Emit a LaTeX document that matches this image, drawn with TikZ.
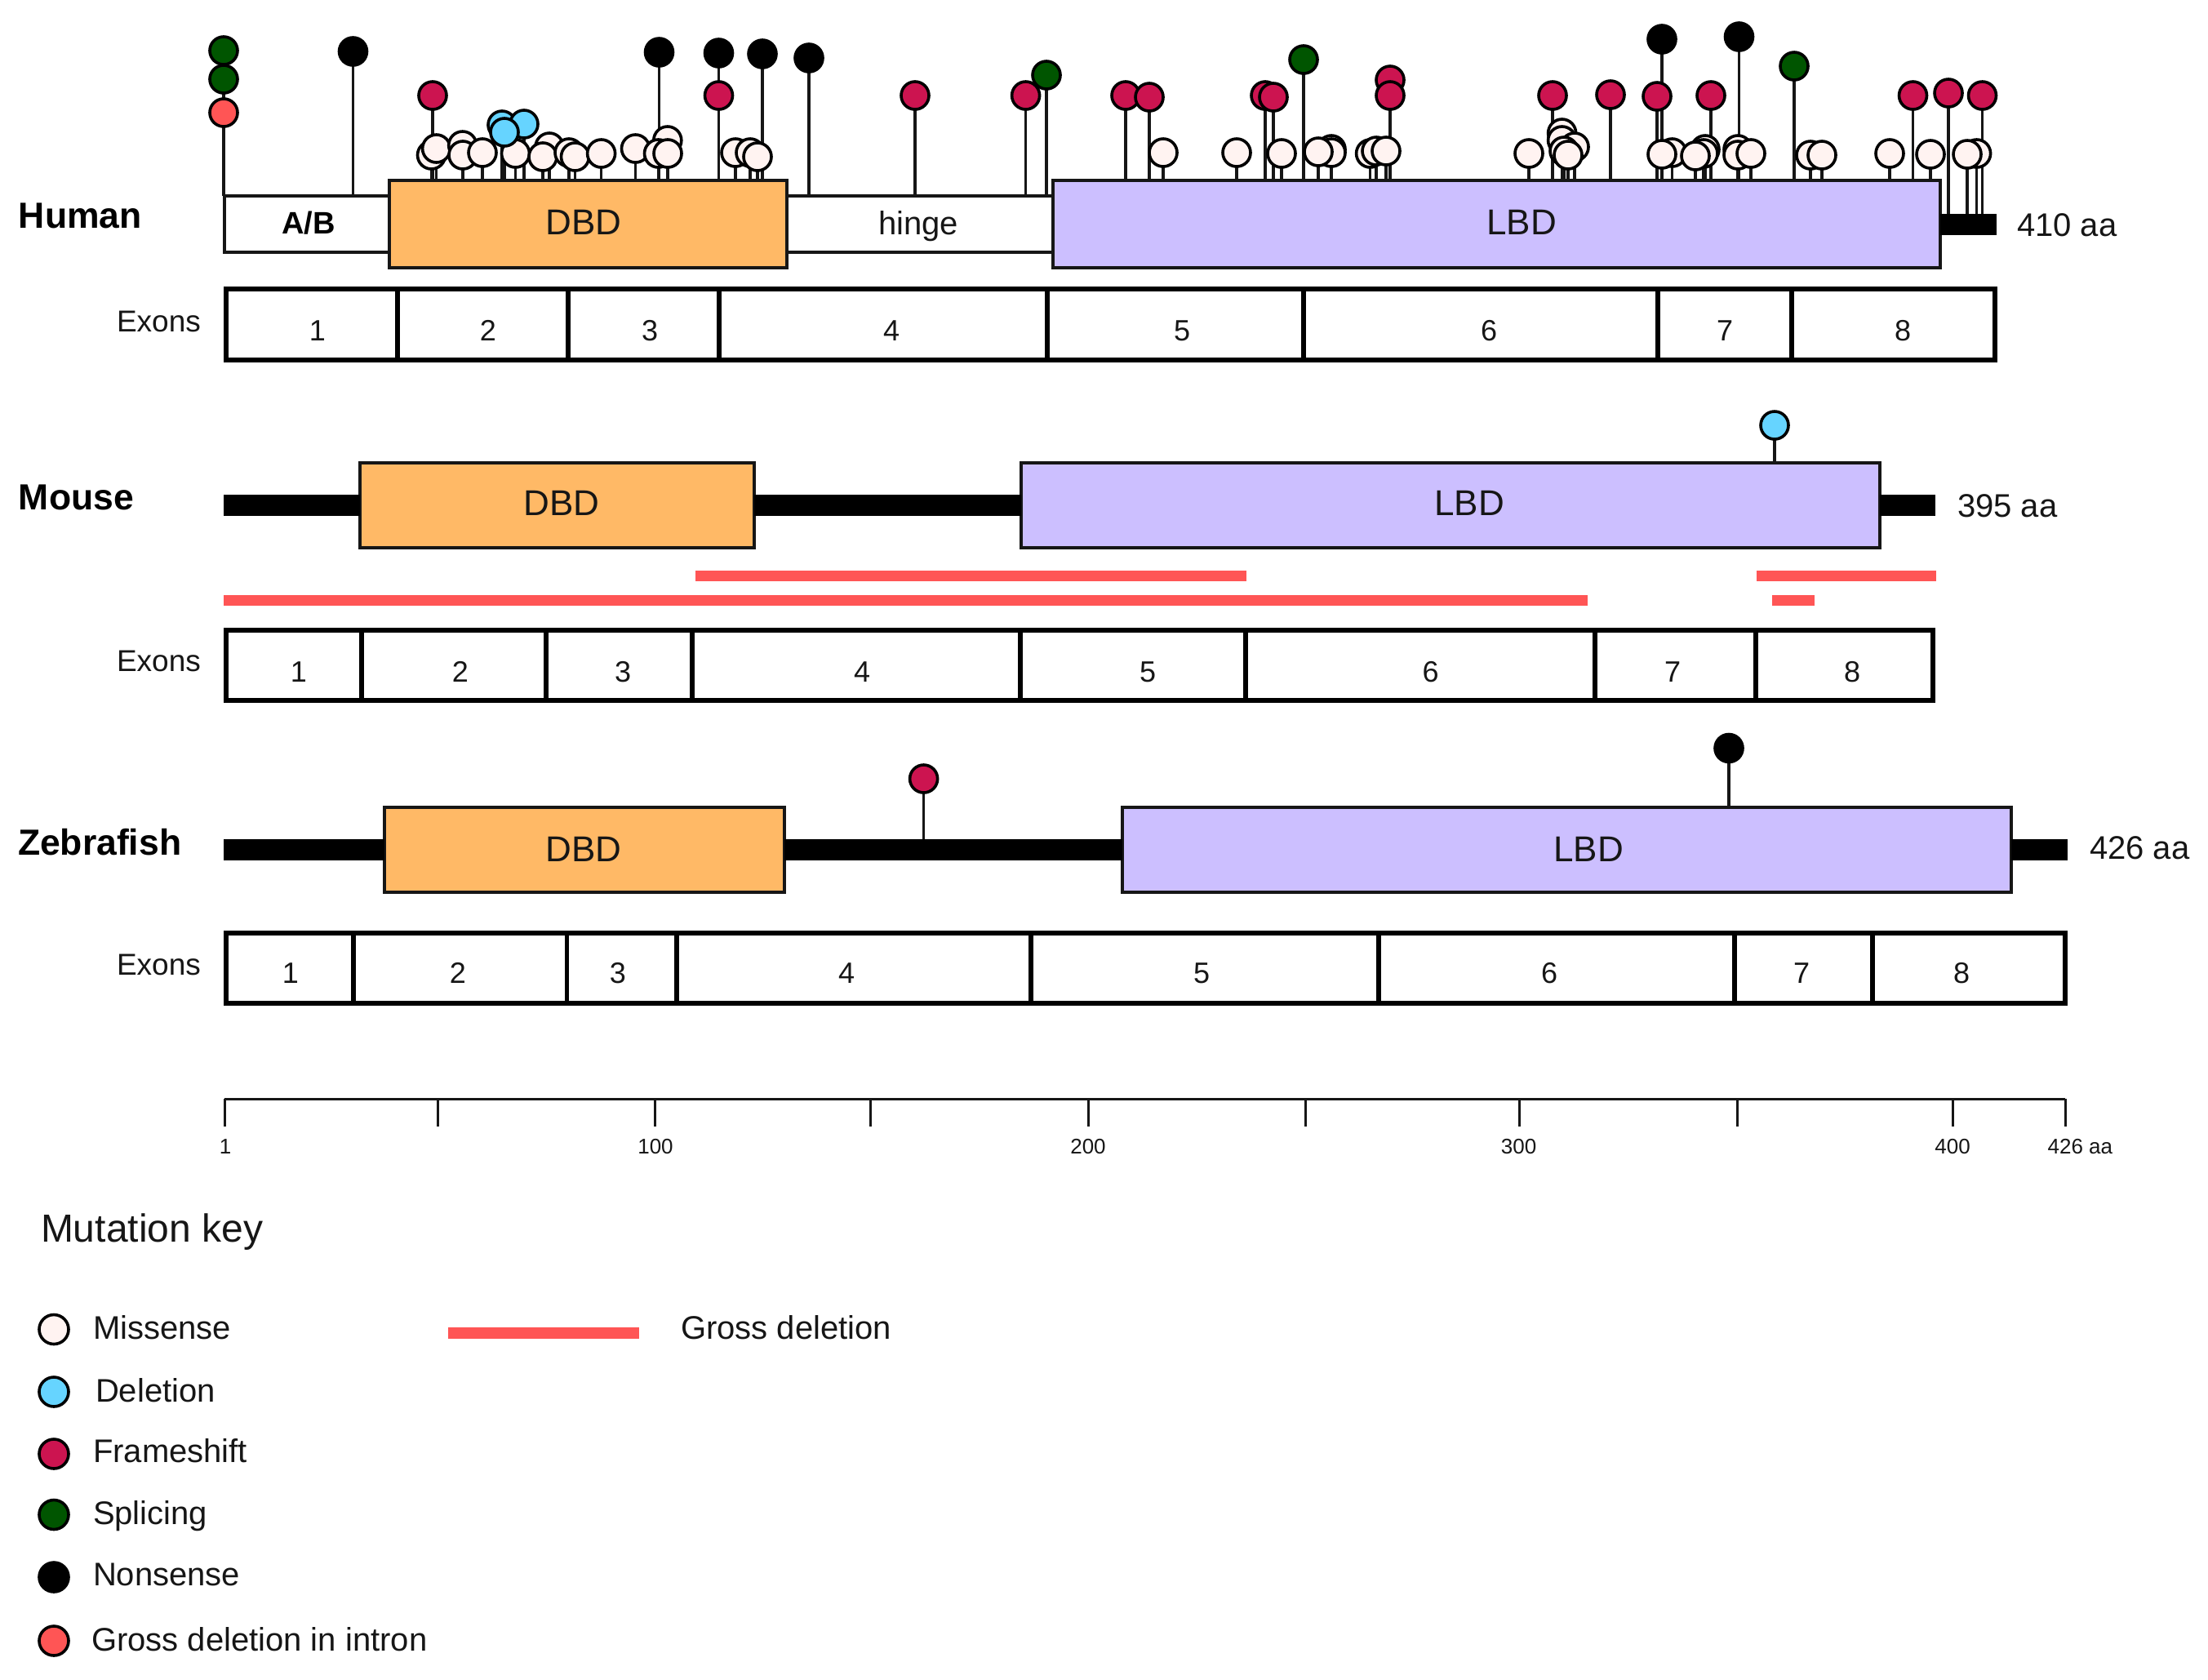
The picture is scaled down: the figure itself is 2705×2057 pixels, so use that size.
\documentclass[tikz,border=0pt]{standalone}
\usepackage{fontspec}
\setmainfont{Liberation Sans}
\pgfdeclarelayer{paper}
\pgfdeclarelayer{stems}
\pgfsetlayers{paper,stems,main}
\definecolor{cDBD}{HTML}{FFB966}
\definecolor{cLBD}{HTML}{CCBFFF}
\definecolor{cMsn}{HTML}{FFF3F1}
\definecolor{cDel}{HTML}{66D4FF}
\definecolor{cFs}{HTML}{CC1450}
\definecolor{cSpl}{HTML}{005500}
\definecolor{cGross}{HTML}{FF5555}
\definecolor{ink}{HTML}{161616}
\tikzset{
  x=1pt,y=-1pt,
  headdot/.style={circle,draw=black,line width=3.6pt,minimum size=34pt,inner sep=0pt,outer sep=0pt},
  msn/.style={headdot,fill=cMsn},
  dln/.style={headdot,fill=cDel},
  frs/.style={headdot,fill=cFs},
  spl/.style={headdot,fill=cSpl},
  nsn/.style={headdot,fill=black},
  gdi/.style={headdot,fill=cGross},
  keyhead/.style={minimum size=36pt},
  stemline/.style={draw=ink,line width=3.6pt},
  blockbox/.style={rectangle,inner sep=0pt,outer sep=0pt,anchor=north west},
  dbdbox/.style={blockbox,draw=ink,line width=4pt,fill=cDBD},
  lbdbox/.style={blockbox,draw=ink,line width=4pt,fill=cLBD},
  plainbox/.style={blockbox,draw=ink,line width=4pt,fill=white},
  cellbox/.style={blockbox,draw=black,line width=5.5pt,fill=white},
  backbone/.style={draw=black,line width=26pt},
  grossbar/.style={draw=cGross,line width=13pt},
  axisline/.style={draw=ink,line width=3pt},
  lab/.style={inner sep=0pt,outer sep=0pt,text=ink},
  tbig/.style={lab,font=\fontsize{44}{50}\selectfont},
  spname/.style={lab,font=\bfseries\fontsize{44.5}{50}\selectfont,text=black,anchor=west},
  tmid/.style={lab,font=\fontsize{40}{46}\selectfont},
  tnum/.style={lab,font=\fontsize{36}{42}\selectfont},
  texl/.style={lab,font=\fontsize{37}{42}\selectfont,anchor=west},
  ttick/.style={lab,font=\fontsize{26}{30}\selectfont},
  tkey/.style={lab,font=\fontsize{40}{46}\selectfont,anchor=west},
}
\newcounter{lolc}
\newcommand{\lol}[4]{\stepcounter{lolc}%
  \node[#1] (h\thelolc) at (#2,#3) {};
  \coordinate (b\thelolc) at (#2,#4);
  \begin{pgfonlayer}{stems}\draw[stemline] (h\thelolc.center) -- (b\thelolc);\end{pgfonlayer}}
\newcommand{\cell}[6]{\pgfmathsetmacro{\cw}{#3-#2}\pgfmathsetmacro{\ch}{#5-#4}%
  \node[#6,minimum width=\cw pt,minimum height=\ch pt] (#1) at (#2,#4) {};}
\begin{document}
\begin{tikzpicture}
\useasboundingbox (0,0) rectangle (2705,2057);
\begin{pgfonlayer}{paper}\fill[white] (0,0) rectangle (2705,2057);\end{pgfonlayer}

% ---------- Human ----------
\cell{hAB}{275}{480}{240}{309}{plainbox}
\cell{hHinge}{960}{1292}{240}{309}{plainbox}
\coordinate (hEnd) at (2446,274.5);
\cell{hDBD}{476.5}{964}{221}{328}{dbdbox}
\cell{hLBD}{1290}{2377}{221}{328}{lbdbox}
\draw[backbone] (hLBD.east) -- (hEnd);
\node[spname] (hName) at (23,264) {Human};
\node[lab,font=\bfseries\fontsize{38}{44}\selectfont,text=black] (hABt) at (378,273) {A/B};
\node[tbig] (hDBDt) at (715,272) {DBD};
\node[tmid] (hHinget) at (1125,277) {hinge};
\node[tbig] (hLBDt) at (1864,272) {LBD};
\node[tmid,anchor=west] (hLen) at (2471,276) {410 aa};

% nonsense
\lol{nsn}{432.5}{63}{240}
\lol{nsn}{807.5}{64}{221}
\lol{nsn}{880.5}{65}{221}
\lol{nsn}{934}{66}{221}
\lol{nsn}{991}{71}{240}
\lol{nsn}{2036}{48}{221}
\lol{nsn}{2130.5}{45}{221}
% splicing and intron
\lol{spl}{274}{62}{240}
\lol{spl}{274}{97}{240}
\lol{gdi}{274}{138}{240}
% frameshift
\lol{frs}{530}{117}{221}
\lol{frs}{880.5}{117}{221}
\lol{frs}{1121}{117}{240}
\lol{frs}{1256.6}{117}{240}
\lol{frs}{1379}{117}{221}
\lol{frs}{1408}{119}{221}
\lol{frs}{1550}{117}{221}
\lol{frs}{1560}{119}{221}
\lol{frs}{1703}{98}{221}
\lol{frs}{1703}{117}{221}
\lol{frs}{1902}{117}{221}
\lol{frs}{1973}{116}{221}
\lol{frs}{2030}{118}{221}
\lol{frs}{2096}{117}{221}
\lol{frs}{2343.5}{117}{221}
\lol{frs}{2387}{114}{262}
\lol{frs}{2428.5}{117}{262}
\lol{spl}{1282}{92}{240}
\lol{spl}{1597}{73}{221}
\lol{spl}{2198}{81}{221}
% missense
\lol{msn}{528.5}{190}{221}
\lol{msn}{534.6}{182}{221}
\lol{msn}{566.7}{178}{221}
\lol{msn}{567}{190}{221}
\lol{msn}{591}{187}{221}
\lol{msn}{631.5}{188}{221}
\lol{msn}{673}{180}{221}
\lol{msn}{665}{192}{221}
\lol{msn}{697}{187}{221}
\lol{msn}{704.5}{192}{221}
\lol{msn}{736.6}{188}{221}
\lol{msn}{778.5}{182}{221}
\lol{msn}{817.8}{172}{221}
\lol{msn}{806.5}{188}{221}
\lol{msn}{818}{188}{221}
\lol{msn}{901}{187}{221}
\lol{msn}{919}{187}{221}
\lol{msn}{928}{192}{221}
\lol{msn}{1425}{187}{221}
\lol{msn}{1515}{187}{221}
\lol{msn}{1570}{188}{221}
\lol{msn}{1631}{183}{221}
\lol{msn}{1631}{187}{221}
\lol{msn}{1615}{186}{221}
\lol{msn}{1678.6}{188}{221}
\lol{msn}{1686}{185}{221}
\lol{msn}{1698}{185}{221}
\lol{msn}{1873}{188}{221}
\lol{msn}{1913.6}{163}{221}
\lol{msn}{1913.6}{172}{221}
\lol{msn}{1929}{180}{221}
\lol{msn}{1916}{185}{221}
\lol{msn}{1921}{190}{221}
\lol{msn}{2048.5}{187}{221}
\lol{msn}{2036}{189}{221}
\lol{msn}{2089}{183}{221}
\lol{msn}{2087}{188}{221}
\lol{msn}{2077}{191}{221}
\lol{msn}{2129}{183}{221}
\lol{msn}{2129}{190}{221}
\lol{msn}{2145}{188}{221}
\lol{msn}{2218}{190}{221}
\lol{msn}{2232}{190}{221}
\lol{msn}{2315}{188}{221}
\lol{msn}{2365}{189}{221}
\lol{msn}{2421.6}{188}{262}
\lol{msn}{2410}{189}{262}
% deletion
\lol{dln}{615}{153}{221}
\lol{dln}{642}{152}{221}
\lol{dln}{618}{162}{221}

% Human exons
\node[texl] (hEx) at (143,394) {Exons};
\cell{he1}{277}{487}{354}{441}{cellbox}
\cell{he2}{487}{696}{354}{441}{cellbox}
\cell{he3}{696}{881}{354}{441}{cellbox}
\cell{he4}{881}{1283}{354}{441}{cellbox}
\cell{he5}{1283}{1597}{354}{441}{cellbox}
\cell{he6}{1597}{2031}{354}{441}{cellbox}
\cell{he7}{2031}{2195}{354}{441}{cellbox}
\cell{he8}{2195}{2444}{354}{441}{cellbox}
\node[tnum] (hn1) at (389,405) {1};
\node[tnum] (hn2) at (598,405) {2};
\node[tnum] (hn3) at (796,405) {3};
\node[tnum] (hn4) at (1092,405) {4};
\node[tnum] (hn5) at (1448,405) {5};
\node[tnum] (hn6) at (1824,405) {6};
\node[tnum] (hn7) at (2113,405) {7};
\node[tnum] (hn8) at (2331,405) {8};

% ---------- Mouse ----------
\coordinate (mStart) at (274,619);
\coordinate (mEnd) at (2371,619);
\cell{mDBD}{441}{924}{567}{671}{dbdbox}
\cell{mLBD}{1251}{2303}{567}{671}{lbdbox}
\draw[backbone] (mStart) -- (mDBD.west);
\draw[backbone] (mDBD.east) -- (mLBD.west);
\draw[backbone] (mLBD.east) -- (mEnd);
\node[spname] (mName) at (23,609) {Mouse};
\node[tbig] (mDBDt) at (688,616.5) {DBD};
\node[tbig] (mLBDt) at (1800,616.5) {LBD};
\node[tmid,anchor=west] (mLen) at (2398,620) {395 aa};
\lol{dln}{2174}{521}{567}
\coordinate (ga1) at (852,705.5);
\coordinate (ga2) at (1527,705.5);
\coordinate (gb1) at (2152,705.5);
\coordinate (gb2) at (2372,705.5);
\coordinate (gc1) at (274,735);
\coordinate (gc2) at (1945,735);
\coordinate (gd1) at (2171,735);
\coordinate (gd2) at (2223,735);
\draw[grossbar] (ga1) -- (ga2);
\draw[grossbar] (gb1) -- (gb2);
\draw[grossbar] (gc1) -- (gc2);
\draw[grossbar] (gd1) -- (gd2);
\node[texl] (mEx) at (143,810) {Exons};
\cell{me1}{277}{443}{772}{858}{cellbox}
\cell{me2}{443}{669}{772}{858}{cellbox}
\cell{me3}{669}{848}{772}{858}{cellbox}
\cell{me4}{848}{1250}{772}{858}{cellbox}
\cell{me5}{1250}{1526}{772}{858}{cellbox}
\cell{me6}{1526}{1954}{772}{858}{cellbox}
\cell{me7}{1954}{2151}{772}{858}{cellbox}
\cell{me8}{2151}{2368}{772}{858}{cellbox}
\node[tnum] (mn1) at (366,823) {1};
\node[tnum] (mn2) at (564,823) {2};
\node[tnum] (mn3) at (763,823) {3};
\node[tnum] (mn4) at (1056,823) {4};
\node[tnum] (mn5) at (1406,823) {5};
\node[tnum] (mn6) at (1752.5,823) {6};
\node[tnum] (mn7) at (2049,823) {7};
\node[tnum] (mn8) at (2269,823) {8};

% ---------- Zebrafish ----------
\coordinate (zStart) at (274,1041);
\coordinate (zEnd) at (2533,1041);
\cell{zDBD}{471}{961}{989}{1093}{dbdbox}
\cell{zLBD}{1375}{2463.5}{989}{1093}{lbdbox}
\draw[backbone] (zStart) -- (zDBD.west);
\draw[backbone] (zDBD.east) -- (zLBD.west);
\draw[backbone] (zLBD.east) -- (zEnd);
\node[spname] (zName) at (22,1032) {Zebrafish};
\node[tbig] (zDBDt) at (715,1040) {DBD};
\node[tbig] (zLBDt) at (1946,1040) {LBD};
\node[tmid,anchor=west] (zLen) at (2560,1039) {426 aa};
\lol{frs}{1131.6}{954}{1028}
\lol{nsn}{2118}{916.5}{989}
\node[texl] (zEx) at (143,1182) {Exons};
\cell{ze1}{277}{433}{1143}{1229}{cellbox}
\cell{ze2}{433}{694.5}{1143}{1229}{cellbox}
\cell{ze3}{694.5}{829}{1143}{1229}{cellbox}
\cell{ze4}{829}{1263}{1143}{1229}{cellbox}
\cell{ze5}{1263}{1689}{1143}{1229}{cellbox}
\cell{ze6}{1689}{2125}{1143}{1229}{cellbox}
\cell{ze7}{2125}{2294}{1143}{1229}{cellbox}
\cell{ze8}{2294}{2530}{1143}{1229}{cellbox}
\node[tnum] (zn1) at (356,1192) {1};
\node[tnum] (zn2) at (561,1192) {2};
\node[tnum] (zn3) at (757,1192) {3};
\node[tnum] (zn4) at (1037,1192) {4};
\node[tnum] (zn5) at (1472,1192) {5};
\node[tnum] (zn6) at (1898,1192) {6};
\node[tnum] (zn7) at (2207,1192) {7};
\node[tnum] (zn8) at (2403,1192) {8};

% ---------- Scale ----------
\coordinate (axL) at (275,1346);
\coordinate (axR) at (2530,1346);
\draw[axisline] (axL) -- (axR);
\foreach \tx/\tn in {275/a,536.5/b,802/c,1066/d,1333/e,1599/f,1861/g,2128/h,2392.6/i,2530/j}{
  \coordinate (tt\tn) at (\tx,1346);
  \coordinate (ts\tn) at (\tx,1380);
  \draw[axisline] (tt\tn) -- (ts\tn);
}
\node[ttick] (l1) at (276,1405) {1};
\node[ttick] (l100) at (803,1405) {100};
\node[ttick] (l200) at (1333,1405) {200};
\node[ttick] (l300) at (1860.6,1405) {300};
\node[ttick] (l400) at (2392,1405) {400};
\node[ttick,anchor=west] (l426) at (2508.6,1405) {426 aa};

% ---------- Key ----------
\node[lab,font=\fontsize{48}{54}\selectfont,anchor=west] (keyT) at (50,1509) {Mutation key};
\node[msn,keyhead] (k1) at (66,1628.5) {};
\node[dln,keyhead] (k2) at (66,1705) {};
\node[frs,keyhead] (k3) at (66,1781) {};
\node[spl,keyhead] (k4) at (66,1855.5) {};
\node[nsn,keyhead] (k5) at (66,1932) {};
\node[gdi,keyhead] (k6) at (66,2010) {};
\node[tkey] (kt1) at (114,1626) {Missense};
\node[tkey] (kt2) at (117,1703) {Deletion};
\node[tkey] (kt3) at (114,1777) {Frameshift};
\node[tkey] (kt4) at (114,1857) {Splicing};
\node[tkey] (kt5) at (114,1929) {Nonsense};
\node[tkey] (kt6) at (112,2008) {Gross deletion in intron};
\coordinate (kg1) at (549,1633);
\coordinate (kg2) at (783,1633);
\draw[grossbar,line width=14.5pt] (kg1) -- (kg2);
\node[tkey] (kgt) at (834,1626) {Gross deletion};
\end{tikzpicture}
\end{document}
